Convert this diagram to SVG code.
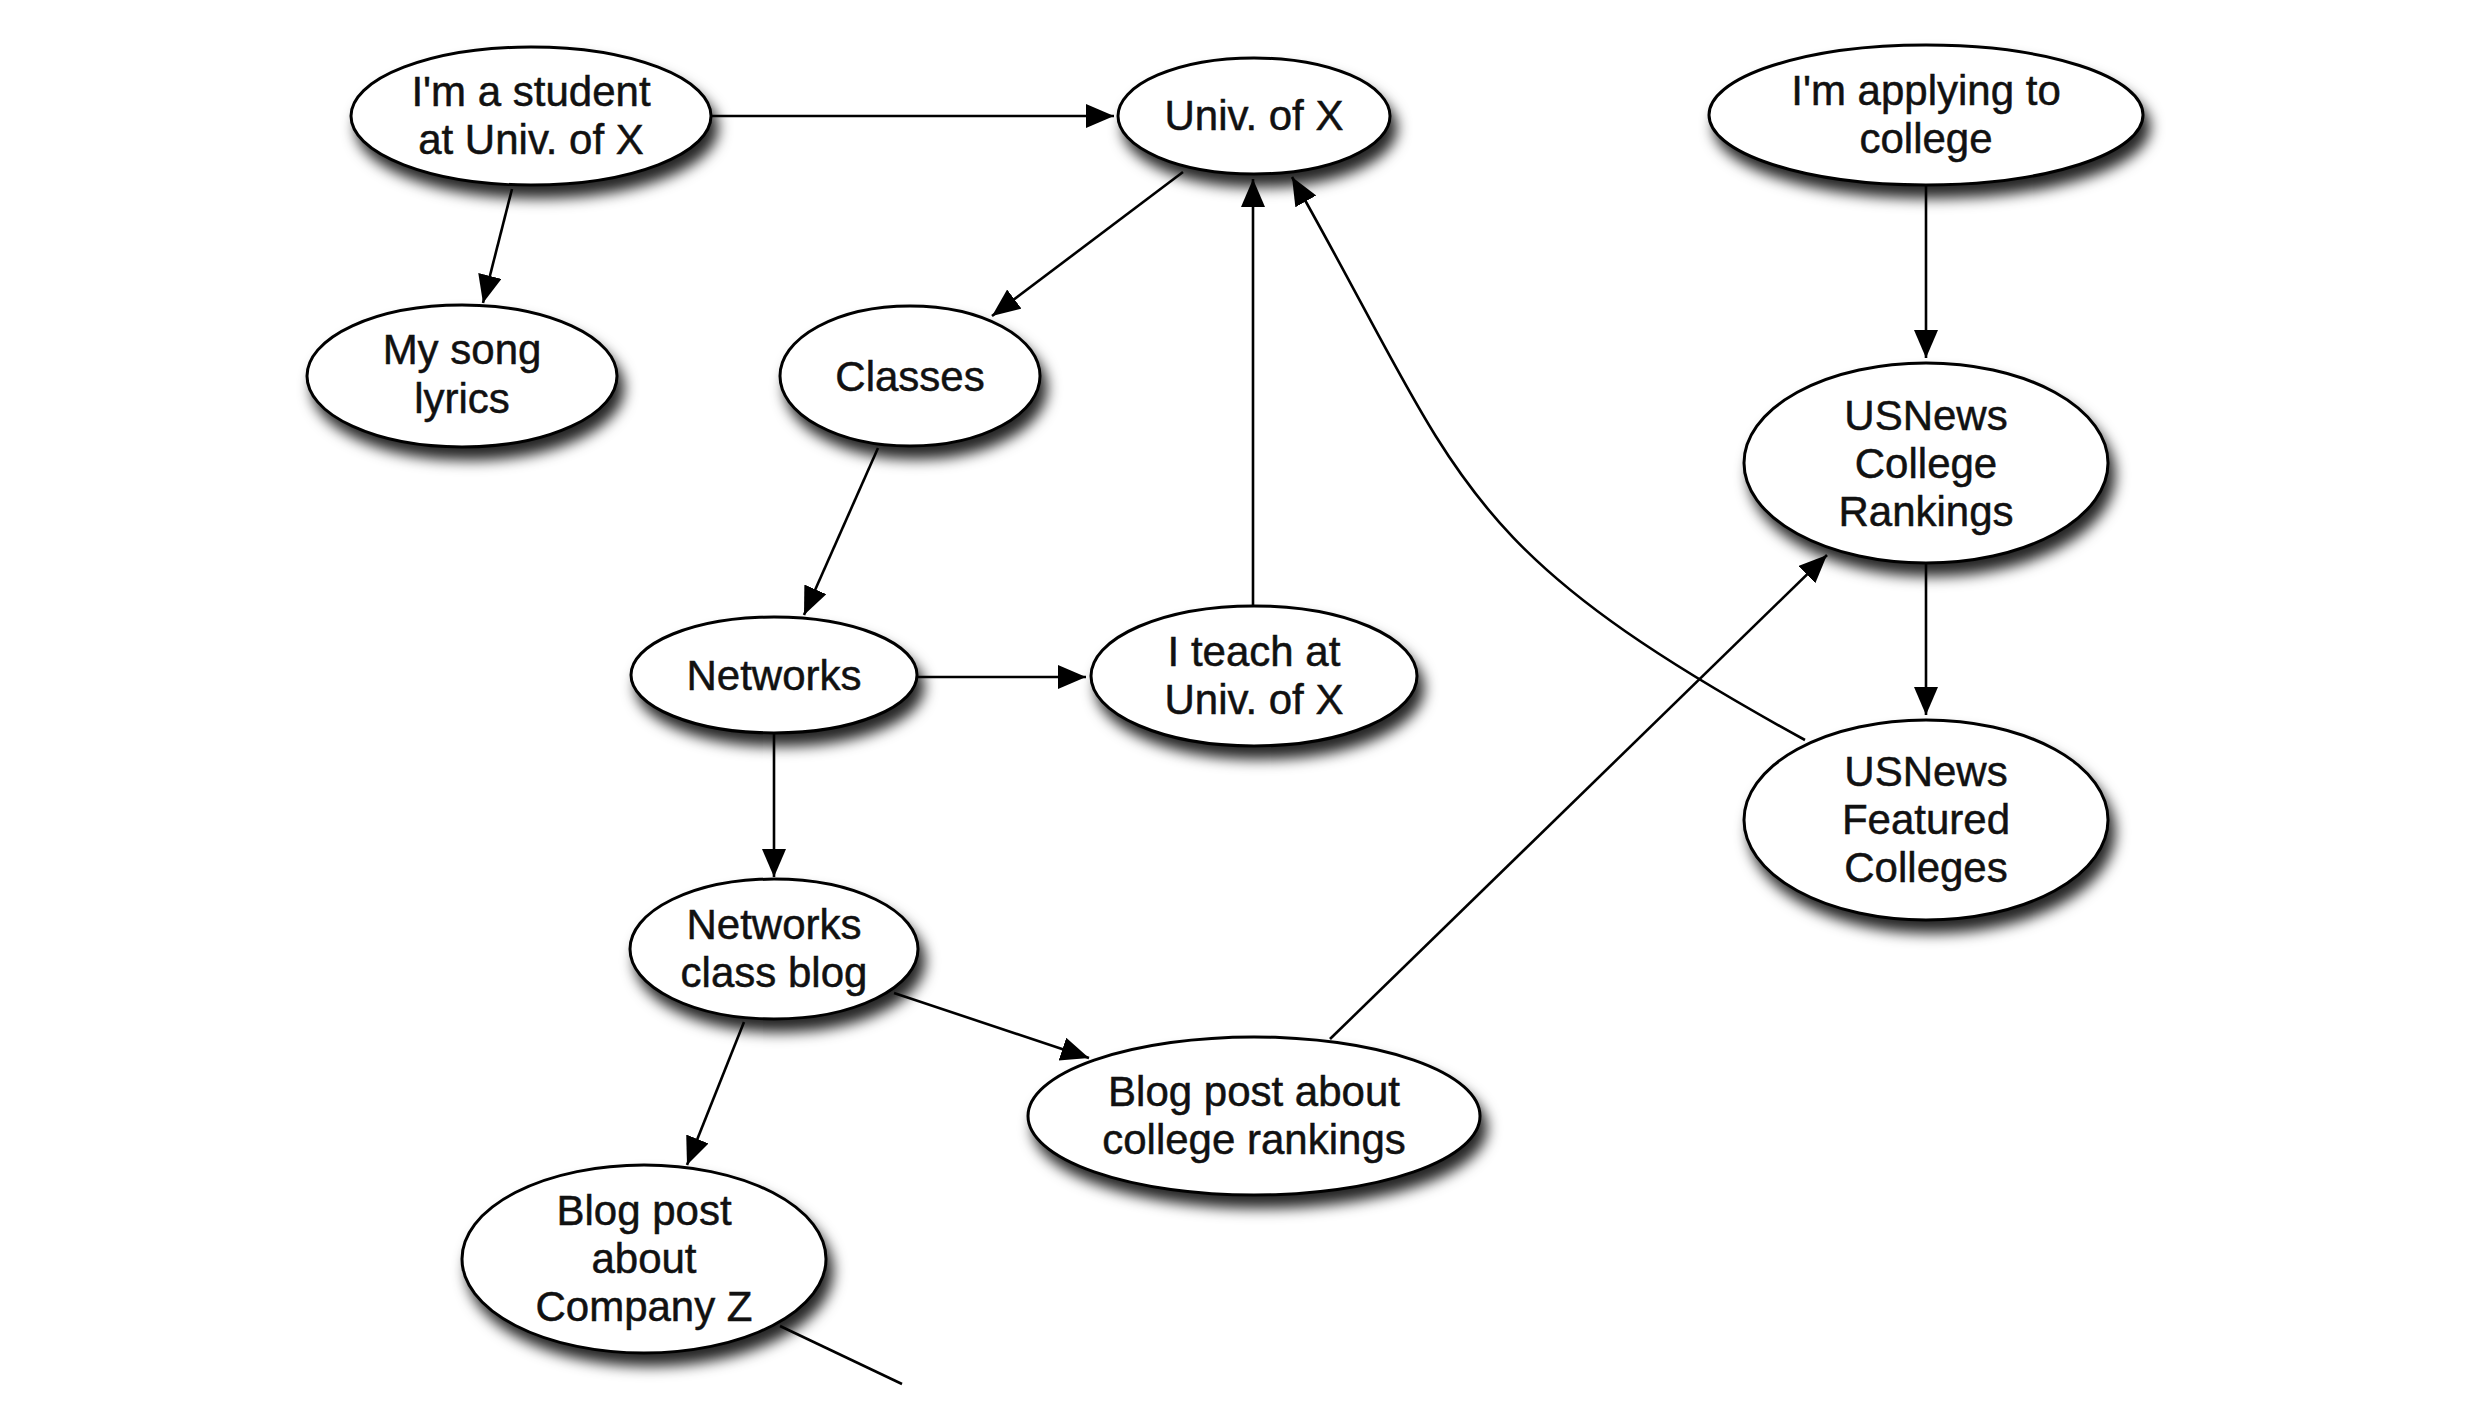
<svg xmlns="http://www.w3.org/2000/svg" width="2468" height="1404" viewBox="0 0 2468 1404">
<defs>
<filter id="sh" x="-20%" y="-20%" width="150%" height="160%">
<feDropShadow dx="6" dy="12" stdDeviation="7" flood-color="#000" flood-opacity="0.85"/>
</filter>
<marker id="ah" markerUnits="userSpaceOnUse" markerWidth="30" markerHeight="26" refX="28" refY="12" orient="auto" viewBox="0 0 30 26">
<path d="M0,0 L28,12 L0,24 z" fill="#000"/>
</marker>
<style>
.n ellipse{fill:#fff;stroke:#000;stroke-width:3;filter:url(#sh)}
.n text{font-family:"Liberation Sans",Arial,sans-serif;font-size:42px;fill:#111;stroke:#111;stroke-width:0.5;text-anchor:middle}
.e line,.e path{stroke:#000;stroke-width:2.6;fill:none}
.a{marker-end:url(#ah)}
</style>
</defs>
<rect width="2468" height="1404" fill="#fff"/>
<g class="e" id="connectors">
<line class="a" x1="712" y1="116" x2="1114" y2="116"/>
<line class="a" x1="512" y1="189" x2="483" y2="303"/>
<line class="a" x1="1183" y1="172" x2="992" y2="316"/>
<line class="a" x1="878" y1="448" x2="804" y2="615"/>
<line class="a" x1="918" y1="677" x2="1086" y2="677"/>
<line class="a" x1="1253" y1="606" x2="1253" y2="179"/>
<path class="a" d="M1805,740 C1450,545 1465,482 1292,177"/>
<line class="a" x1="1926" y1="186" x2="1926" y2="358"/>
<line class="a" x1="1926" y1="564" x2="1926" y2="715"/>
<line class="a" x1="774" y1="734" x2="774" y2="877"/>
<line class="a" x1="894" y1="993" x2="1089" y2="1058"/>
<line class="a" x1="744" y1="1022" x2="687" y2="1165"/>
<line class="a" x1="1330" y1="1039" x2="1827" y2="555"/>
<line x1="780" y1="1326" x2="902" y2="1384"/>
</g>
<g class="n" id="n-student"><ellipse cx="531" cy="116" rx="180" ry="69"/><text x="531" y="106">I'm a student</text><text x="531" y="154">at Univ. of X</text></g>
<g class="n" id="n-univ"><ellipse cx="1254" cy="116" rx="136" ry="58"/><text x="1254" y="130">Univ. of X</text></g>
<g class="n" id="n-applying"><ellipse cx="1926" cy="115" rx="217" ry="70"/><text x="1926" y="105">I'm applying to</text><text x="1926" y="153">college</text></g>
<g class="n" id="n-lyrics"><ellipse cx="462" cy="376" rx="155" ry="71"/><text x="462" y="364">My song</text><text x="462" y="413">lyrics</text></g>
<g class="n" id="n-classes"><ellipse cx="910" cy="376" rx="130" ry="70"/><text x="910" y="391">Classes</text></g>
<g class="n" id="n-rankings"><ellipse cx="1926" cy="463" rx="182" ry="100"/><text x="1926" y="430">USNews</text><text x="1926" y="478">College</text><text x="1926" y="526">Rankings</text></g>
<g class="n" id="n-networks"><ellipse cx="774" cy="675" rx="143" ry="58"/><text x="774" y="690">Networks</text></g>
<g class="n" id="n-teach"><ellipse cx="1254" cy="676" rx="163" ry="70"/><text x="1254" y="666">I teach at</text><text x="1254" y="714">Univ. of X</text></g>
<g class="n" id="n-featured"><ellipse cx="1926" cy="820" rx="182" ry="100"/><text x="1926" y="786">USNews</text><text x="1926" y="834">Featured</text><text x="1926" y="882">Colleges</text></g>
<g class="n" id="n-classblog"><ellipse cx="774" cy="949" rx="144" ry="70"/><text x="774" y="939">Networks</text><text x="774" y="987">class blog</text></g>
<g class="n" id="n-rankpost"><ellipse cx="1254" cy="1116" rx="226" ry="79"/><text x="1254" y="1106">Blog post about</text><text x="1254" y="1154">college rankings</text></g>
<g class="n" id="n-companyz"><ellipse cx="644" cy="1259" rx="182" ry="94"/><text x="644" y="1225">Blog post</text><text x="644" y="1273">about</text><text x="644" y="1321">Company Z</text></g>
</svg>
